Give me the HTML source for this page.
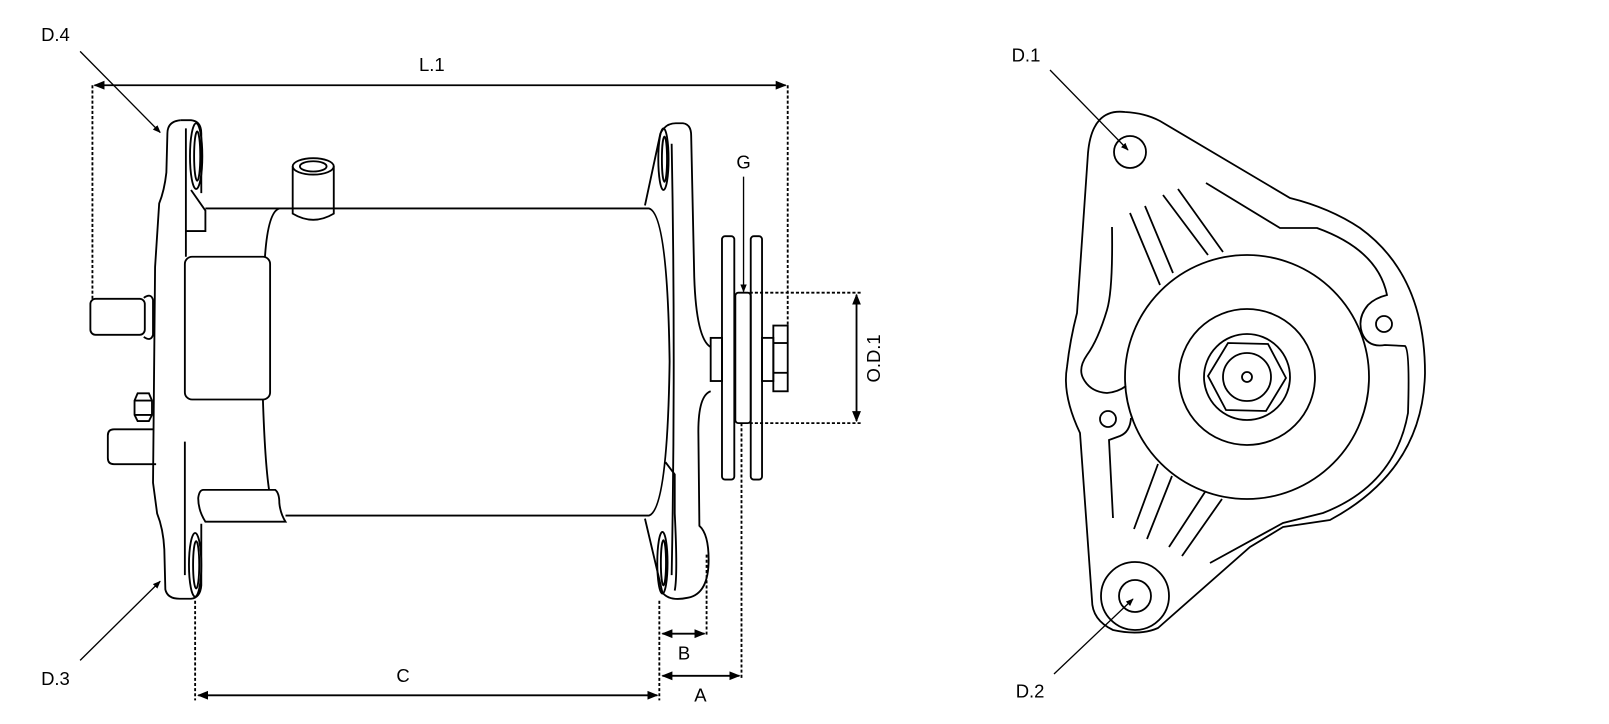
<!DOCTYPE html>
<html><head><meta charset="utf-8"><style>
html,body{margin:0;padding:0;background:#fff}
svg{display:block}
text{font-family:"Liberation Sans",sans-serif;font-size:18px;fill:#000}
</style></head><body>
<svg width="1609" height="724" viewBox="0 0 1609 724" xmlns="http://www.w3.org/2000/svg">
<defs>
<marker id="ar" viewBox="0 0 10 10" refX="9" refY="5" markerWidth="6" markerHeight="6" orient="auto-start-reverse"><path d="M0,1 L10,5 L0,9 z" fill="#000"/></marker>
</defs>
<g transform="scale(1.027)" fill="none" stroke="#000" stroke-width="1.8">
<line x1="92" y1="83" x2="765" y2="83" marker-start="url(#ar)" marker-end="url(#ar)"/>
<line x1="90" y1="83" x2="90" y2="292" stroke-dasharray="3,2"/>
<line x1="767" y1="83" x2="767" y2="318" stroke-dasharray="3,2"/>
<line x1="78" y1="50" x2="156" y2="129" stroke-width="1.3" marker-end="url(#ar)"/>
<line x1="78" y1="643" x2="156" y2="566" stroke-width="1.3" marker-end="url(#ar)"/>
<path d="M176,117 Q163,118 163,130 L162,168 Q160,186 155,198 L151,260 L149,470 L153,500 Q159,515 160,535 L161,574 Q163,583 175,583 L186,583 Q195,582 196,570 L196,510"/>
<path d="M176,117 H186 Q196,118 196,130 L196,188"/>
<path d="M181,125 L181,250"/>
<path d="M180,430 L180,560"/>
<path d="M186,185 L200,205 V225 H181"/>
<ellipse cx="191" cy="152" rx="6" ry="32"/><ellipse cx="192" cy="152" rx="3" ry="24"/>
<ellipse cx="190" cy="550" rx="6" ry="31"/><ellipse cx="191" cy="550" rx="3" ry="23"/>
<path d="M200,203 H632 Q650,208 652,352 Q650,496 632,502 H278"/>
<path d="M272,203 Q261,206 258,250"/>
<path d="M256,389 Q258,450 262,477"/>
<rect x="180" y="250" width="83" height="139" rx="7"/>
<path d="M198,477 H268 Q272,480 272,490 Q273,500 278,508 L200,508 Q193,497 193,485 Q194,477 198,477 Z"/>
<ellipse cx="305" cy="162" rx="20" ry="8"/><ellipse cx="305" cy="162" rx="13" ry="5"/>
<path d="M285,162 V208 Q305,220 325,208 V162"/>
<rect x="88" y="291" width="53" height="35" rx="5"/>
<path d="M140,290 Q147,285 149,292 V326 Q147,333 140,328"/>
<path d="M134,383 H145 L148,390 V404 L145,410 H134 L131,404 V390 Z M131,390 H148 M131,404 H148"/>
<path d="M150,418 H111 Q105,418 105,424 V446 Q105,452 111,452 H152"/>
<path d="M628,200 L643,130 Q648,120 658,120 H665 Q673,121 673,132 L676,270 Q678,330 692,338"/>
<path d="M692,381 Q680,385 680,420 L681,512 Q690,520 690,545 Q690,578 670,582 Q652,586 645,577 L628,505"/>
<path d="M654,140 Q658,350 654,560"/>
<path d="M648,450 L657,462 L657,500 Q660,560 657,575"/>
<ellipse cx="646" cy="155" rx="5" ry="30"/><ellipse cx="647" cy="155" rx="2.5" ry="22"/>
<ellipse cx="645" cy="548" rx="5" ry="30"/><ellipse cx="646" cy="548" rx="2.5" ry="22"/>
<rect x="692" y="329" width="11" height="42"/>
<rect x="703" y="230" width="12" height="237" rx="3"/>
<rect x="716" y="285" width="15" height="127" rx="3"/>
<rect x="731" y="230" width="11" height="237" rx="3"/>
<rect x="742" y="329" width="11" height="42"/>
<rect x="753" y="317" width="14" height="64"/>
<line x1="753" y1="334" x2="767" y2="334"/><line x1="753" y1="363" x2="767" y2="363"/>
<line x1="730" y1="285" x2="838" y2="285" stroke-dasharray="3,2"/>
<line x1="730" y1="412" x2="838" y2="412" stroke-dasharray="3,2"/>
<line x1="834" y1="287" x2="834" y2="410" marker-start="url(#ar)" marker-end="url(#ar)"/>
<line x1="724" y1="172" x2="724" y2="284" stroke-width="1.3" marker-end="url(#ar)"/>
<line x1="190" y1="585" x2="190" y2="682" stroke-dasharray="3,2"/>
<line x1="642" y1="585" x2="642" y2="682" stroke-dasharray="3,2"/>
<line x1="688" y1="540" x2="688" y2="620" stroke-dasharray="3,2"/>
<line x1="722" y1="412" x2="722" y2="662" stroke-dasharray="3,2"/>
<line x1="645" y1="617" x2="686" y2="617" marker-start="url(#ar)" marker-end="url(#ar)"/>
<line x1="645" y1="658" x2="720" y2="658" marker-start="url(#ar)" marker-end="url(#ar)"/>
<line x1="193" y1="677" x2="640" y2="677" marker-start="url(#ar)" marker-end="url(#ar)"/>
</g>
<g transform="scale(1.027)">
<text x="40" y="40">D.4</text>
<text x="40" y="667">D.3</text>
<text x="408" y="69">L.1</text>
<text x="386" y="664">C</text>
<text x="660" y="642">B</text>
<text x="676" y="683">A</text>
<text x="717" y="164">G</text>
<text transform="translate(857,349) rotate(-90)" text-anchor="middle">O.D.1</text>
<text x="985" y="60">D.1</text>
<text x="989" y="679">D.2</text>
</g>
<g fill="none" stroke="#000" stroke-width="1.8">
<path d="M1088,153 Q1092,108 1125,112 Q1145,113 1160,121 L1290,198 Q1330,208 1360,228 Q1425,275 1425,373 Q1423,470 1330,520 L1283,527 Q1270,535 1250,547 L1158,628 Q1140,636 1113,630 Q1092,620 1092,600 L1080,433 Q1062,395 1067,367 Q1070,340 1077,313 Z"/>
<path d="M1206,183 L1280,228 H1317 Q1378,250 1387,295 Q1375,298 1368,305 Q1357,318 1362,333 Q1368,348 1385,345 L1405,346 Q1410,350 1408,413 Q1395,485 1323,513 L1283,523 L1210,563"/>
<circle cx="1384" cy="324" r="8"/>
<path d="M1112,227 Q1113,290 1107,310 Q1098,340 1087,355 Q1078,368 1083,378 Q1090,392 1107,393 Q1118,392 1126,386"/>
<path d="M1131,418 Q1130,432 1120,436 L1109,440 L1113,518"/>
<circle cx="1108" cy="419" r="8"/>
<path d="M1130,213 L1160,285 M1145,206 L1173,273 M1163,195 L1208,255 M1178,189 L1223,252"/>
<path d="M1158,464 L1134,529 M1172,476 L1147,539 M1205,492 L1169,547 M1222,499 L1182,556"/>
<circle cx="1247" cy="377" r="122"/>
<circle cx="1247" cy="377" r="68"/>
<circle cx="1247" cy="377" r="43"/>
<polygon points="1286,378 1268,344 1228,343 1208,376 1226,410 1266,411"/>
<circle cx="1247" cy="377" r="24"/>
<circle cx="1247" cy="377" r="5"/>
<circle cx="1130" cy="152" r="16"/>
<circle cx="1135" cy="596" r="34"/>
<circle cx="1135" cy="596" r="16"/>
<line x1="1050" y1="70" x2="1128" y2="150" stroke-width="1.3" marker-end="url(#ar)"/>
<line x1="1054" y1="674" x2="1133" y2="599" stroke-width="1.3" marker-end="url(#ar)"/>
</g>
</svg>
</body></html>
